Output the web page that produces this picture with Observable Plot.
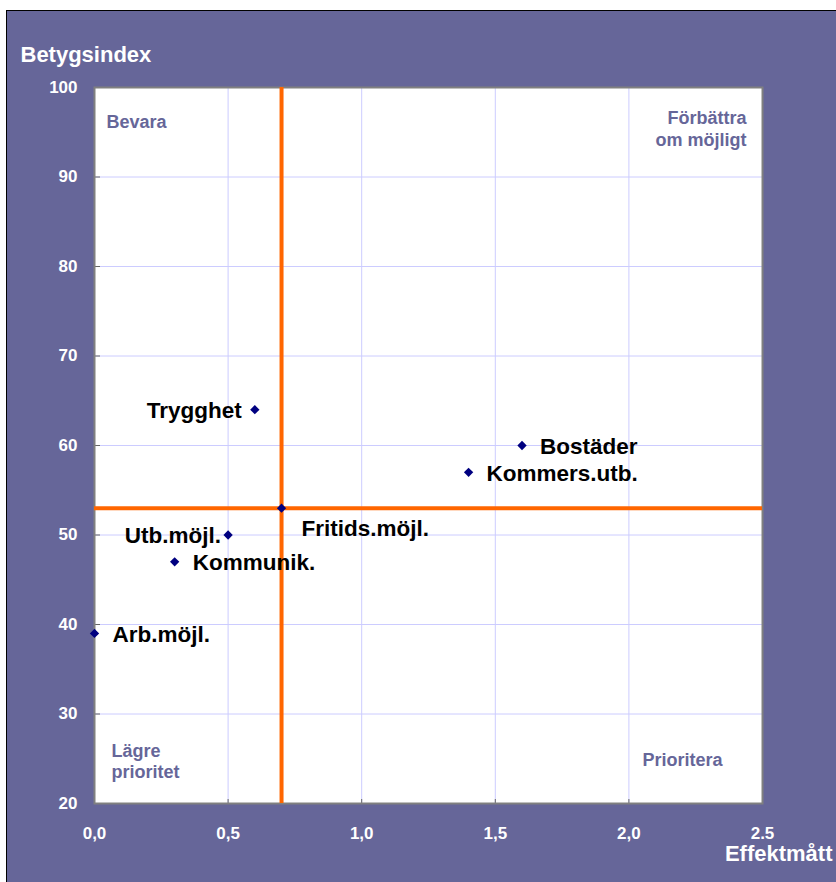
<!DOCTYPE html>
<html><head><meta charset="utf-8">
<script src="https://cdn.jsdelivr.net/npm/d3@7"></script>
<script src="https://cdn.jsdelivr.net/npm/@observablehq/plot@0.6"></script>
<style>
html,body{margin:0;padding:0;background:#fff;overflow:hidden}
#wrap{position:absolute;left:6px;top:10px;border-left:1px solid #000;border-top:1px solid #000;}
#wrap svg{display:block}
</style></head><body><div id="wrap"></div>
<script>
const names = ["Trygghet", "Bostäder", "Kommers.utb.", "Fritids.möjl.", "Utb.möjl.", "Kommunik.", "Arb.möjl."];
const effekt = [0.6, 1.6, 1.4, 0.7, 0.5, 0.3, 0.0];
const betyg = [64, 60, 57, 53, 50, 47, 39];
const xTicks = [0, 0.5, 1, 1.5, 2, 2.5];
const xTickLabels = ["0,0", "0,5", "1,0", "1,5", "2,0", "2.5"];
const yTicks = [20, 30, 40, 50, 60, 70, 80, 90, 100];
const refX = [0.7];
const refY = [53];
const yTitle = "Betygsindex";
const xTitle = "Effektmått";
const quadTopLeft = "Bevara";
const quadTopRight = "Förbättra\nom möjligt";
const quadBottomLeft = "Lägre\nprioritet";
const quadBottomRight = "Prioritera";

const data = names.map((n, i) => ({name: n, x: effekt[i], y: betyg[i]}));
const farLeft = ["Trygghet"];
const nearLeft = ["Utb.möjl."];
const below = ["Fritids.möjl."];
const rightData = data.filter(d => ![...farLeft, ...nearLeft, ...below].includes(d.name));
const farLeftData = data.filter(d => farLeft.includes(d.name));
const nearLeftData = data.filter(d => nearLeft.includes(d.name));
const belowData = data.filter(d => below.includes(d.name));

const purple = "#666699";
const W = 829, H = 871, mL = 87, mR = 74, mT = 76, mB = 79;
const pw = W - mL - mR, ph = H - mT - mB;
const font = "'Liberation Sans', Arial, Helvetica, sans-serif";
const lblSize = 22.5, quadSize = 18, tickSize = 17, titleSize = 22;
const lbl = {x: "x", y: "y", text: "name", fontSize: lblSize, fontWeight: "bold", fill: "black"};

const chart = Plot.plot({
  width: W, height: H,
  marginLeft: mL, marginRight: mR, marginTop: mT, marginBottom: mB,
  style: {background: purple, fontFamily: font, fontWeight: "bold", overflow: "visible"},
  x: {domain: [0, 2.5], axis: null},
  y: {domain: [20, 100], axis: null},
  marks: [
    Plot.frame({fill: "white"}),
    Plot.gridX(xTicks.slice(1, -1), {stroke: "#CCCCFF", strokeOpacity: 1}),
    Plot.gridY(yTicks.slice(1, -1), {stroke: "#CCCCFF", strokeOpacity: 1}),
    Plot.tickY(yTicks.slice(1, -1), {y: d => d, stroke: "#666", insetRight: pw - 6}),
    Plot.tickX(xTicks.slice(1, -1), {x: d => d, stroke: "#666", insetTop: ph - 4}),
    Plot.frame({stroke: "#808080", strokeWidth: 2}),
    Plot.ruleX(refX, {stroke: "#FF6600", strokeWidth: 4}),
    Plot.ruleY(refY, {stroke: "#FF6600", strokeWidth: 4}),
    Plot.axisX(xTicks, {tickSize: 0, tickPadding: 23, tickFormat: d => xTickLabels[xTicks.indexOf(d)], fill: "white", fontSize: tickSize, fontWeight: "bold", label: null}),
    Plot.axisY(yTicks, {tickSize: 0, tickPadding: 17, fill: "white", fontSize: tickSize, fontWeight: "bold", label: null}),
    Plot.dot(data, {x: "x", y: "y", symbol: "diamond2", r: 4.2, fill: "#000080", stroke: "none"}),
    Plot.text(rightData, {...lbl, textAnchor: "start", dx: 18, dy: 1}),
    Plot.text(farLeftData, {...lbl, textAnchor: "end", dx: -13, dy: 1}),
    Plot.text(nearLeftData, {...lbl, textAnchor: "end", dx: -7, dy: 1}),
    Plot.text(belowData, {...lbl, textAnchor: "start", dx: 20, dy: 21}),
    Plot.text([quadTopLeft], {frameAnchor: "top-left", text: d => d, textAnchor: "start", dx: 12, dy: 28, fontSize: quadSize, fontWeight: "bold", fill: purple}),
    Plot.text([quadTopRight], {frameAnchor: "top-right", text: d => d, textAnchor: "end", lineAnchor: "top", lineHeight: 1.2, dx: -16, dy: 21.5, fontSize: quadSize, fontWeight: "bold", fill: purple}),
    Plot.text([quadBottomLeft], {frameAnchor: "bottom-left", text: d => d, textAnchor: "start", lineAnchor: "top", lineHeight: 1.15, dx: 17, dy: -61, fontSize: quadSize, fontWeight: "bold", fill: purple}),
    Plot.text([quadBottomRight], {frameAnchor: "bottom-right", text: d => d, textAnchor: "start", dx: -120, dy: -38, fontSize: quadSize, fontWeight: "bold", fill: purple}),
    Plot.text([yTitle], {frameAnchor: "top-left", text: d => d, textAnchor: "start", dx: -74, dy: -41, fontSize: titleSize, fontWeight: "bold", fill: "white"}),
    Plot.text([xTitle], {frameAnchor: "bottom-right", text: d => d, textAnchor: "end", dx: 70, dy: 57, fontSize: titleSize, fontWeight: "bold", fill: "white"})
  ]
});
document.getElementById("wrap").appendChild(chart);
</script>
</body></html>
